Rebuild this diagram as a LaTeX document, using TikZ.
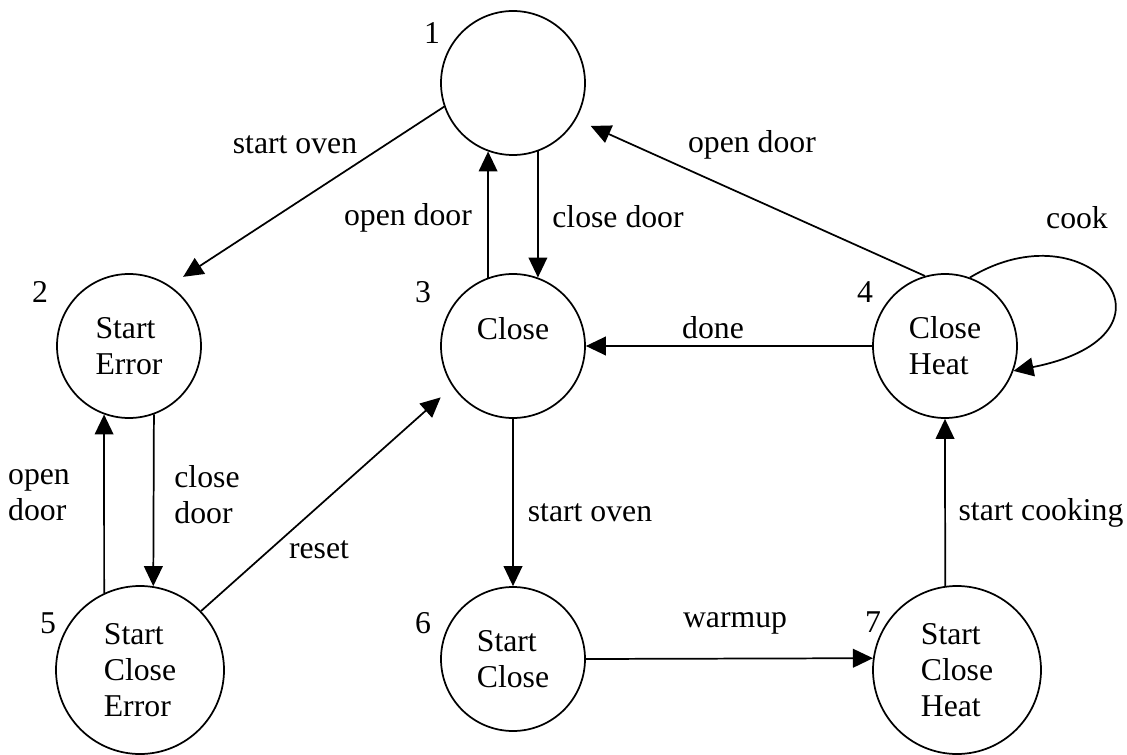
\documentclass[tikz,border=0pt]{standalone}
\usepackage{fontspec}
\setmainfont{Liberation Serif}
\usetikzlibrary{arrows.meta}

\begin{document}
\begin{tikzpicture}
            [
                x=0.75pt, y=-0.75pt,
                every node/.style={font=\fontsize{23.8}{27}\selectfont},
                state/.style={draw, circle, line width=1.3pt, minimum size=108pt, inner sep=0pt, align=left},
                bigstate/.style={state, minimum size=126pt},
                trans/.style={-{Triangle[length=15pt, width=14pt]}, line width=1.3pt},
                gap/.style={shorten >=12pt},
                twoline/.style={align=left}
            ]
            \useasboundingbox (0,0) rectangle (1127,755);

            % states
            \node[state] (s1) at (513,83) {};
            \node[state] (s2) at (129,346) {Start\\Error};
            \node[state] (s3) at (513,346) {Close\\\mbox{}};
            \node[state] (s4) at (945,346) {Close\\Heat};
            \node[bigstate] (s5) at (140,670) {Start\\Close\\Error};
            \node[state] (s6) at (513,659) {Start\\Close};
            \node[bigstate] (s7) at (957,670) {Start\\Close\\Heat};

            % state numbers
            \node (n1) at (432,33) {1};
            \node (n2) at (40,292) {2};
            \node (n3) at (423,292) {3};
            \node (n4) at (865,292) {4};
            \node (n5) at (48,623) {5};
            \node (n6) at (423,623) {6};
            \node (n7) at (873,622) {7};

            % transitions
            \draw[trans, gap] (s1.199) -- (s2.56);
            \draw[trans] (s3.110) -- (s1.250);
            \draw[trans] (s1.290) -- (s3.70);
            \draw[trans, gap] (s4.106) -- (s1.330);
            \draw[trans] (s4.west) -- (s3.east);
            \draw[trans] (s4.70) .. controls (1090,205) and (1195,335) .. (s4.340);
            \draw[trans] (s3.south) -- (s6.north);
            \draw[trans] (s2.290) -- (s5.81);
            \draw[trans] (s5.115) -- (s2.250);
            \draw[trans, gap] (s5.44) -- (s3.214);
            \draw[trans] (s6.east) -- (s7.172);
            \draw[trans] (s7.98) -- (s4.south);

            % transition labels
            \node (t12) at (295,145) {start oven};
            \node (t31) at (408,218) {open door};
            \node (t13) at (618,217) {close door};
            \node (t41) at (752,145) {open door};
            \node (t44) at (1077,218) {cook};
            \node (t43) at (713,328) {done};
            \node[twoline] (t52) at (39,495) {open\\door};
            \node[twoline] (t25) at (207,495) {close\\door};
            \node (t53) at (319,550) {reset};
            \node (t36) at (590,513) {start oven};
            \node (t67) at (735,623) {warmup};
            \node (t74) at (1041,513) {start cooking};
\end{tikzpicture}
\end{document}
